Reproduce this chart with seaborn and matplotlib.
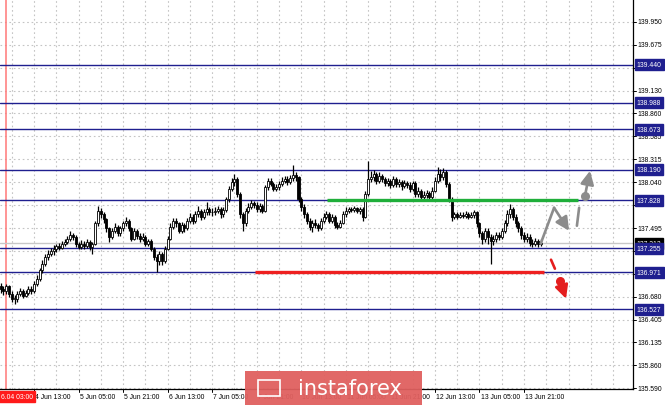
import matplotlib
matplotlib.use('Agg')
import matplotlib.pyplot as plt
import seaborn as sns
from matplotlib.patches import Rectangle

# H1 candles, 4 Jun 01:00 onwards
first_open = 136.80
closes = [
    136.77, 136.74, 136.80, 136.71, 136.65, 136.65, 136.71, 136.75, 136.69, 136.72,
    136.77, 136.74, 136.83, 136.89, 136.99, 137.07, 137.15, 137.19, 137.22, 137.25,
    137.28, 137.26, 137.31, 137.33, 137.37, 137.41, 137.39, 137.30, 137.27, 137.31,
    137.28, 137.33, 137.27, 137.31, 137.55, 137.70, 137.66, 137.60, 137.49, 137.39,
    137.46, 137.51, 137.43, 137.49, 137.55, 137.58, 137.49, 137.37, 137.46, 137.40,
    137.37, 137.39, 137.31, 137.34, 137.25, 137.15, 137.10, 137.19, 137.10, 137.25,
    137.37, 137.51, 137.58, 137.55, 137.46, 137.53, 137.49, 137.58, 137.63, 137.58,
    137.66, 137.70, 137.63, 137.68, 137.72, 137.69, 137.68, 137.70, 137.72, 137.66,
    137.71, 137.84, 137.96, 138.04, 138.08, 137.90, 137.66, 137.55, 137.70, 137.75,
    137.79, 137.77, 137.72, 137.76, 137.70, 137.98, 138.06, 138.02, 137.96, 137.98,
    138.02, 138.06, 138.08, 138.04, 138.09, 138.13, 138.10, 137.84, 137.75, 137.66,
    137.58, 137.51, 137.56, 137.53, 137.49, 137.58, 137.63, 137.66, 137.58, 137.63,
    137.53, 137.51, 137.56, 137.66, 137.70, 137.72, 137.71, 137.73, 137.70, 137.72,
    137.63, 137.90, 138.08, 138.10, 138.14, 138.06, 138.12, 138.08, 138.03, 138.06,
    138.01, 138.08, 138.02, 138.04, 138.00, 138.03, 138.01, 137.96, 138.03, 137.90,
    137.94, 137.87, 137.89, 137.91, 137.87, 137.94, 138.06, 138.14, 138.10, 138.16,
    138.02, 137.84, 137.63, 137.66, 137.63, 137.65, 137.64, 137.66, 137.63, 137.65,
    137.68, 137.55, 137.43, 137.37, 137.46, 137.39, 137.34, 137.37, 137.41, 137.39,
    137.46, 137.55, 137.66, 137.72, 137.63, 137.55, 137.49, 137.41, 137.37, 137.39,
    137.32, 137.30, 137.34, 137.31, 137.31,
]
highs = [
    136.84, 136.80, 136.83, 136.82, 136.74, 136.70, 136.74, 136.78, 136.77, 136.76,
    136.80, 136.81, 136.86, 136.93, 137.02, 137.11, 137.18, 137.23, 137.26, 137.29,
    137.31, 137.32, 137.34, 137.37, 137.40, 137.46, 137.44, 137.41, 137.33, 137.35,
    137.34, 137.37, 137.35, 137.33, 137.58, 137.76, 137.73, 137.69, 137.62, 137.51,
    137.49, 137.55, 137.53, 137.52, 137.58, 137.63, 137.60, 137.51, 137.49, 137.48,
    137.43, 137.43, 137.41, 137.37, 137.36, 137.27, 137.18, 137.22, 137.21, 137.28,
    137.40, 137.55, 137.62, 137.61, 137.57, 137.57, 137.56, 137.62, 137.67, 137.66,
    137.70, 137.76, 137.72, 137.72, 137.80, 137.75, 137.73, 137.74, 137.76, 137.74,
    137.75, 137.87, 138.00, 138.09, 138.14, 138.10, 137.92, 137.69, 137.73, 137.79,
    137.83, 137.82, 137.80, 137.79, 137.78, 138.01, 138.09, 138.09, 138.04, 138.02,
    138.06, 138.10, 138.12, 138.11, 138.13, 138.24, 138.16, 138.12, 137.87, 137.78,
    137.69, 137.61, 137.59, 137.60, 137.56, 137.61, 137.67, 137.70, 137.68, 137.66,
    137.65, 137.57, 137.59, 137.70, 137.74, 137.75, 137.75, 137.76, 137.75, 137.75,
    137.74, 137.93, 138.29, 138.17, 138.19, 138.16, 138.16, 138.14, 138.10, 138.09,
    138.08, 138.11, 138.10, 138.08, 138.07, 138.07, 138.06, 138.04, 138.06, 138.05,
    137.98, 137.96, 137.93, 137.95, 137.94, 137.98, 138.10, 138.22, 138.20, 138.21,
    138.18, 138.04, 137.86, 137.69, 137.68, 137.68, 137.68, 137.70, 137.68, 137.69,
    137.71, 137.70, 137.57, 137.46, 137.49, 137.49, 137.42, 137.41, 137.45, 137.45,
    137.50, 137.59, 137.71, 137.78, 137.74, 137.66, 137.58, 137.52, 137.45, 137.43,
    137.42, 137.36, 137.38, 137.37, 137.36,
]
lows = [
    136.72, 136.70, 136.71, 136.68, 136.62, 136.59, 136.62, 136.69, 136.66, 136.67,
    136.70, 136.71, 136.72, 136.80, 136.87, 136.96, 137.04, 137.12, 137.16, 137.17,
    137.21, 137.23, 137.24, 137.28, 137.30, 137.34, 137.35, 137.27, 137.24, 137.25,
    137.25, 137.26, 137.23, 137.19, 137.29, 137.52, 137.62, 137.56, 137.45, 137.33,
    137.37, 137.43, 137.40, 137.40, 137.46, 137.52, 137.46, 137.34, 137.35, 137.37,
    137.33, 137.34, 137.28, 137.28, 137.22, 137.11, 136.97, 137.05, 137.05, 137.08,
    137.23, 137.35, 137.48, 137.51, 137.43, 137.44, 137.45, 137.47, 137.55, 137.54,
    137.56, 137.63, 137.59, 137.60, 137.65, 137.65, 137.64, 137.65, 137.67, 137.62,
    137.63, 137.69, 137.81, 137.93, 138.00, 137.86, 137.62, 137.46, 137.52, 137.67,
    137.72, 137.73, 137.69, 137.69, 137.67, 137.68, 137.95, 137.99, 137.93, 137.93,
    137.95, 137.99, 138.03, 138.01, 138.02, 138.06, 138.06, 137.80, 137.70, 137.62,
    137.54, 137.47, 137.45, 137.49, 137.46, 137.47, 137.55, 137.60, 137.55, 137.55,
    137.50, 137.48, 137.49, 137.54, 137.63, 137.67, 137.68, 137.68, 137.67, 137.66,
    137.58, 137.61, 137.88, 138.04, 138.06, 138.02, 138.03, 138.04, 137.99, 137.99,
    137.97, 137.98, 137.98, 137.98, 137.95, 137.97, 137.97, 137.92, 137.93, 137.86,
    137.86, 137.82, 137.84, 137.85, 137.83, 137.84, 137.92, 138.03, 138.06, 138.07,
    137.98, 137.80, 137.58, 137.60, 137.60, 137.61, 137.61, 137.61, 137.60, 137.61,
    137.62, 137.51, 137.39, 137.31, 137.33, 137.31, 137.07, 137.29, 137.33, 137.35,
    137.36, 137.43, 137.52, 137.62, 137.59, 137.51, 137.45, 137.37, 137.33, 137.33,
    137.28, 137.27, 137.28, 137.27, 137.28,
]

levels = [139.440, 138.988, 138.673, 138.190, 137.828, 137.255, 136.971, 136.527]
current_price = 137.313
y_ticks = [135.590, 135.860, 136.135, 136.405, 136.680, 136.950, 137.225, 137.495,
           137.770, 138.040, 138.315, 138.585, 138.860, 139.130, 139.405, 139.675, 139.950]
x_tick_pos = [12, 28, 44, 60, 76, 92, 108, 124, 140, 156, 172, 188]
x_tick_labels = ['4 Jun 13:00', '5 Jun 05:00', '5 Jun 21:00', '6 Jun 13:00', '7 Jun 05:00',
                 '7 Jun 21:00', '10 Jun 13:00', '11 Jun 05:00', '11 Jun 21:00',
                 '12 Jun 13:00', '13 Jun 05:00', '13 Jun 21:00']
grid_x = list(range(4, 228, 8))
separator_bar = 2
separator_label = '6.04 03:00'

# trade scenario drawn on the chart
buy_level, buy_from, buy_to = 137.828, 117.2, 207.4
sell_level, sell_from, sell_to = 136.971, 91.4, 195.2
grey_path_x = [194, 198.8, 204.2]
grey_path_y = [137.31, 137.736, 137.462]
grey_dash_x = [207.0, 207.8]
grey_dash_y = [137.522, 137.736]
grey_target_x = [209.9, 211.7]
grey_target_y = [137.879, 138.176]
red_dash_x = [197.7, 199.1]
red_dash_y = [137.118, 137.011]
red_target_x = [200.9, 203.1]
red_target_y = [136.868, 136.654]

sns.set_style('white')
plt.rcParams['font.family'] = ['Liberation Sans', 'DejaVu Sans']

fig = plt.figure(figsize=(6.65, 4.06), dpi=100)
ax = fig.add_axes([0, 16.5 / 406, 633 / 665, 389.5 / 406])
ax.set_xlim(-0.22, 227.15)
ax.set_ylim(135.585, 140.221)

# dotted grid
for gx in grid_x:
    ax.axvline(gx, color='#c4c4c4', lw=0.8, ls=(0, (1.5, 2.5)), zorder=0)
for gy in y_ticks:
    ax.axhline(gy, color='#c4c4c4', lw=0.8, ls=(0, (1.5, 2.5)), zorder=0)

ax.axvline(separator_bar, color='#ff7878', lw=1.1, zorder=1)

navy = '#1f1f8f'
for lv in levels:
    ax.axhline(lv, color=navy, lw=1.0, zorder=1)
ax.axhline(current_price, color='#c8c8c8', lw=1.0, zorder=1)

# candles
idx = list(range(len(closes)))
opens = [first_open] + closes[:-1]
ax.vlines(idx, lows, highs, color='black', lw=0.9, zorder=3)
bottoms = [min(o, c) for o, c in zip(opens, closes)]
heights = [max(abs(c - o), 0.008) for o, c in zip(opens, closes)]
fills = ['white' if c >= o else 'black' for o, c in zip(opens, closes)]
ax.bar(idx, heights, bottom=bottoms, width=0.72, color=fills, edgecolor='black',
       linewidth=0.6, zorder=3)

# scenario lines
ax.hlines(buy_level, buy_from, buy_to, color='#1fae3a', lw=2.4, zorder=4)
ax.hlines(sell_level, sell_from, sell_to, color='#ee2020', lw=2.4, zorder=4)

arrow = dict(arrowstyle='-|>,head_length=0.8,head_width=0.4', lw=1.9, shrinkA=0, shrinkB=0)
grey = '#8c8c8c'
sns.lineplot(x=grey_path_x[:2], y=grey_path_y[:2], color=grey, lw=1.9, ax=ax, zorder=5)
ax.annotate('', xy=(grey_path_x[2], grey_path_y[2]), xytext=(grey_path_x[1], grey_path_y[1]),
            arrowprops=dict(arrow, color=grey), zorder=5)
ax.plot(grey_dash_x, grey_dash_y, color=grey, lw=1.9, zorder=5)
ax.plot(grey_target_x[0], grey_target_y[0], 'o', color=grey, ms=5.5, zorder=5)
ax.annotate('', xy=(grey_target_x[1], grey_target_y[1]), xytext=(grey_target_x[0], grey_target_y[0]),
            arrowprops=dict(arrow, color=grey), zorder=5)

red = '#e41e1e'
ax.plot(red_dash_x, red_dash_y, color=red, lw=1.9, zorder=5)
ax.plot(red_target_x[0], red_target_y[0], 'o', color=red, ms=5.5, zorder=5)
ax.annotate('', xy=(red_target_x[1], red_target_y[1]), xytext=(red_target_x[0], red_target_y[0]),
            arrowprops=dict(arrow, color=red), zorder=5)

# axes frame: right and bottom only
for side in ['left', 'top']:
    ax.spines[side].set_visible(False)
for side in ['right', 'bottom']:
    ax.spines[side].set_color('black')
    ax.spines[side].set_linewidth(0.9)
ax.set_xticks([])
ax.set_yticks([])

# right price scale
fs = 4.9
tr = ax.get_yaxis_transform()
for t in y_ticks:
    ax.plot([1.0, 1.005], [t, t], color='black', lw=0.7, transform=tr, clip_on=False)
    ax.text(1.007, t, f'{t:.3f}', transform=tr, fontsize=fs, va='center', ha='left',
            color='black', clip_on=False)
ax.text(1.006, current_price, f'{current_price:.3f}', transform=tr, fontsize=fs, va='center',
        ha='left', color='white', clip_on=False,
        bbox=dict(boxstyle='square,pad=0.3', fc='black', ec='black'))
for lv in levels:
    ax.text(1.006, lv, f'{lv:.3f}', transform=tr, fontsize=fs, va='center', ha='left',
            color='white', clip_on=False,
            bbox=dict(boxstyle='square,pad=0.3', fc=navy, ec=navy))

# bottom time scale
xtr = ax.get_xaxis_transform()
for p, lab in zip(x_tick_pos, x_tick_labels):
    ax.plot([p, p], [0, -0.008], color='black', lw=0.7, transform=xtr, clip_on=False)
    ax.text(p + 0.4, -0.021, lab, transform=xtr, fontsize=fs, va='center', ha='left',
            color='black', clip_on=False)
ax.text(0.3, -0.021, separator_label, transform=xtr, fontsize=fs, va='center', ha='left',
        color='white', clip_on=False,
        bbox=dict(boxstyle='square,pad=0.3', fc='#ff1a1a', ec='#ff1a1a'))

# watermark
fig.patches.append(Rectangle((245 / 665, 0), 177 / 665, 34 / 406, transform=fig.transFigure,
                             fc='#e0605f', ec='none', alpha=0.95, zorder=10))
fig.patches.append(Rectangle((258 / 665, 9 / 406), 22 / 665, 16 / 406, transform=fig.transFigure,
                             fc='none', ec='white', lw=1.2, zorder=11))
fig.text(350 / 665, 17 / 406, 'instaforex', fontsize=15, color='white', ha='center',
         va='center', zorder=12, family='DejaVu Sans')

fig.savefig('out.png', dpi=100)
